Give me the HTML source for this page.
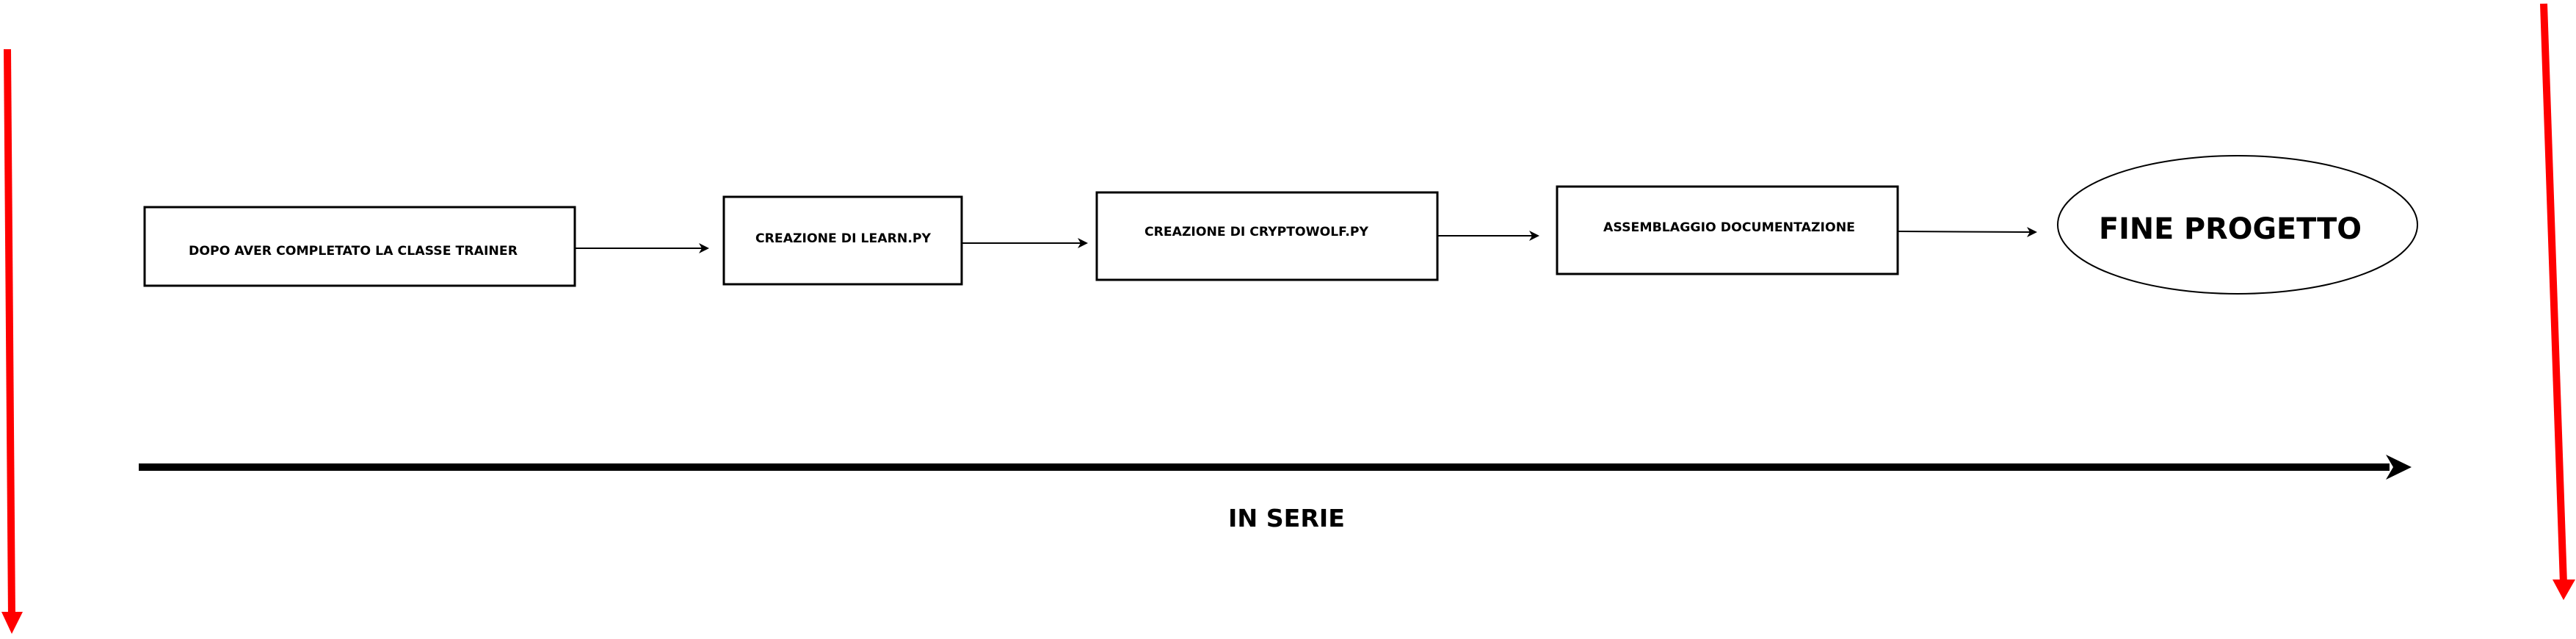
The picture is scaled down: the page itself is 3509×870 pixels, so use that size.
<!DOCTYPE html>
<html><head><meta charset="utf-8"><style>html,body{margin:0;padding:0;background:#fff}svg{display:block}</style></head>
<body>
<svg width="3509" height="870" viewBox="0 0 3509 870" xmlns="http://www.w3.org/2000/svg" font-family="DejaVu Sans, Liberation Sans, sans-serif" font-weight="bold">
<rect width="3509" height="870" fill="#fff"/>
<g fill="none" stroke="#000" stroke-width="3">
<rect x="197" y="282" width="586" height="107"/>
<rect x="986" y="268" width="324" height="119"/>
<rect x="1494" y="262" width="464" height="119"/>
<rect x="2121" y="254" width="464" height="119"/>
<ellipse cx="3048" cy="306" rx="245" ry="94" stroke-width="2"/>
<line x1="783" y1="338" x2="960" y2="338" stroke-width="2"/>
<line x1="1310" y1="331" x2="1476" y2="331" stroke-width="2"/>
<line x1="1958" y1="321" x2="2091" y2="321" stroke-width="2"/>
<line x1="2585" y1="315" x2="2769" y2="316" stroke-width="2"/>
</g>
<g fill="#000">
<polygon points="966,338 952,331 956,338 952,345"/>
<polygon points="1482,331 1468,324 1472,331 1468,338"/>
<polygon points="2097,321 2083,314 2087,321 2083,328"/>
<polygon points="2775,316 2761,309 2765,316 2761,323"/>
</g>
<g font-size="17" fill="#000">
<text x="257" y="347" textLength="448" lengthAdjust="spacingAndGlyphs">DOPO AVER COMPLETATO LA CLASSE TRAINER</text>
<text x="1029" y="330" textLength="239" lengthAdjust="spacingAndGlyphs">CREAZIONE DI LEARN.PY</text>
<text x="1559" y="321" textLength="305" lengthAdjust="spacingAndGlyphs">CREAZIONE DI CRYPTOWOLF.PY</text>
<text x="2184" y="315" textLength="343" lengthAdjust="spacingAndGlyphs">ASSEMBLAGGIO DOCUMENTAZIONE</text>
</g>
<text x="2859" y="325" font-size="40" textLength="358" lengthAdjust="spacingAndGlyphs">FINE PROGETTO</text>
<text x="1673" y="717" font-size="33" textLength="159" lengthAdjust="spacingAndGlyphs">IN SERIE</text>
<line x1="189" y1="636" x2="3255" y2="636" stroke="#000" stroke-width="10"/>
<polygon points="3285,636 3250,619 3260,636 3250,653" fill="#000"/>
<line x1="10" y1="67" x2="16" y2="840" stroke="#f00" stroke-width="10"/>
<polygon points="2,833 31,833 16,863" fill="#f00"/>
<line x1="3465" y1="5" x2="3492" y2="795" stroke="#f00" stroke-width="10"/>
<polygon points="3477,789 3508,789 3492,817" fill="#f00"/>
</svg>
</body></html>
